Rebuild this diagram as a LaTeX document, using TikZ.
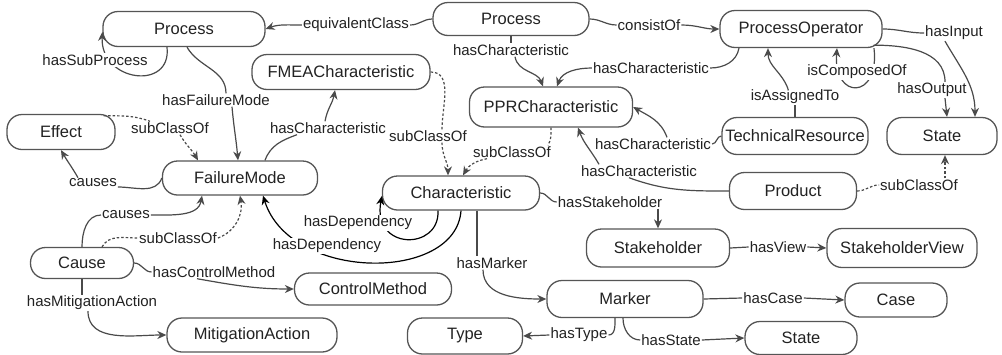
\documentclass[tikz,border=0pt]{standalone}
\usepackage{fontspec}
\setmainfont{Liberation Sans}
\usetikzlibrary{arrows.meta}

\definecolor{bordgris}{HTML}{555555}
\definecolor{liengris}{HTML}{4A4A4A}
\definecolor{texte}{HTML}{222222}

\tikzset{
  cls/.style={draw=bordgris, line width=1.3pt, fill=white, rounded corners=15pt,
    minimum height=35pt, inner sep=0pt, text=texte, font=\fontsize{16.5}{18}\selectfont},
  lbl/.style={fill=white, inner sep=1pt, text=texte, font=\fontsize{15}{17}\selectfont},
  lien/.style={draw=liengris, line width=1.2pt},
  fl/.style={lien, -{Stealth[length=9pt,width=8pt]}},
  dep/.style={fl, draw=black},
  pointille/.style={dash pattern=on 2.5pt off 2pt}
}

\begin{document}
\begin{tikzpicture}[x=1pt,y=-1pt]
      \useasboundingbox (0,0) rectangle (1002,354);

      %classes
      \node[cls, minimum width=162pt] (proc1) at (184,29) {Process};
      \node[cls, minimum width=156pt, minimum height=33pt] (proc2) at (511,19) {Process};
      \node[cls, minimum width=162pt, minimum height=37pt] (po) at (801,29) {ProcessOperator};
      \node[cls, minimum width=178pt] (fmea) at (341,72) {FMEACharacteristic};
      \node[cls, minimum width=163pt, minimum height=40pt] (ppr) at (551,107) {PPRCharacteristic};
      \node[cls, minimum width=108pt] (effect) at (61,132) {Effect};
      \node[cls, minimum width=155pt, minimum height=34pt] (fm) at (240,178) {FailureMode};
      \node[cls, minimum width=157pt, minimum height=34pt] (char) at (461,193) {Characteristic};
      \node[cls, minimum width=146pt, minimum height=37pt] (tr) at (795,136) {TechnicalResource};
      \node[cls, minimum width=110pt, minimum height=37pt] (state1) at (942,136) {State};
      \node[cls, minimum width=127pt, minimum height=37pt] (prod) at (793,191) {Product};
      \node[cls, minimum width=143pt, minimum height=38pt] (stake) at (658,248) {Stakeholder};
      \node[cls, minimum width=150pt, minimum height=39pt] (sview) at (902,248) {StakeholderView};
      \node[cls, minimum width=156pt, minimum height=37pt] (marker) at (625,299) {Marker};
      \node[cls, minimum width=102pt, minimum height=34pt] (case) at (896,300) {Case};
      \node[cls, minimum width=112pt, minimum height=33pt] (state2) at (801,338) {State};
      \node[cls, minimum width=115pt, minimum height=36pt] (type) at (465,336) {Type};
      \node[cls, minimum width=157pt, minimum height=32pt] (ctrl) at (373,289) {ControlMethod};
      \node[cls, minimum width=170pt, minimum height=34pt] (mit) at (252,335) {MitigationAction};
      \node[cls, minimum width=103pt, minimum height=31pt] (cause) at (82,263) {Cause};

      %etiquettes
      \node[lbl] (lEquiv) at (356,25) {equivalentClass};
      \node[lbl] (lConsist) at (649,25) {consistOf};
      \node[lbl] (lHC1) at (511,50) {hasCharacteristic};
      \node[lbl] (lHC2) at (651,68) {hasCharacteristic};
      \node[lbl] (lIn) at (954,33) {hasInput};
      \node[lbl] (lOut) at (932,90) {hasOutput};
      \node[lbl] (lAssigned) at (795,97) {isAssignedTo};
      \node[lbl] (lHC3) at (653,144) {hasCharacteristic};
      \node[lbl] (lHC4) at (639,171) {hasCharacteristic};
      \node[lbl] (lSub1) at (919,185) {subClassOf};
      \node[lbl] (lSub2) at (512,152) {subClassOf};
      \node[lbl] (lSub3) at (428,136) {subClassOf};
      \node[lbl] (lHC5) at (328,128) {hasCharacteristic};
      \node[lbl] (lFail) at (216,100) {hasFailureMode};
      \node[lbl] (lSubEff) at (170,128) {subClassOf};
      \node[lbl] (lCauses1) at (93,183) {causes};
      \node[lbl] (lCauses2) at (126,215) {causes};
      \node[lbl] (lSub4) at (178,238) {subClassOf};
      \node[lbl] (lCtrl) at (214,272) {hasControlMethod};
      \node[lbl] (lMit) at (92,303) {hasMitigationAction};
      \node[lbl] (lStake) at (610,202) {hasStakeholder};
      \node[lbl] (lMarker) at (492,263) {hasMarker};
      \node[lbl] (lView) at (778,247) {hasView};
      \node[lbl] (lCase) at (773,298) {hasCase};
      \node[lbl] (lType) at (579,335) {hasType};
      \node[lbl] (lState) at (671,340) {hasState};

      %process
      \draw[lien] (proc2.west) to[out=180,in=0] (lEquiv.east);
      \draw[fl] (lEquiv.west) to[out=180,in=20] (proc1.east);
      \draw[lien] (proc2.east) to[out=0,in=180] (lConsist.west);
      \draw[fl] (lConsist.east) to[out=0,in=180] (po.west);
      \draw[lien] (proc2.south) -- (lHC1.north);
      \draw[fl] ([xshift=4pt]lHC1.south) to[out=-80,in=110] ([xshift=-8pt]ppr.north);
      \draw[fl] ([xshift=-17pt]proc1.south) .. controls +(5,44) and +(-2,50) .. ([yshift=-3pt]proc1.west);
      \node[lbl] (lSubProc) at (95,60) {hasSubProcess};
      \draw[lien] ([xshift=3pt]proc1.south) to[out=-60,in=90] ([xshift=10pt]lFail.north);
      \draw[fl] ([xshift=16pt]lFail.south) to[out=-85,in=95] ([xshift=-2pt]fm.north);

      %operateur
      \draw[lien] ([xshift=-62pt]po.south) to[out=-100,in=0] (lHC2.east);
      \draw[fl] (lHC2.west) to[out=180,in=70] ([xshift=6pt]ppr.north);
      \draw[lien] (po.east) to[out=0,in=180] (lIn.west);
      \draw[fl] ([xshift=-9pt]lIn.south) to[out=-60,in=90] ([xshift=33pt]state1.north);
      \draw[lien] ([xshift=-9pt,yshift=3pt]po.south east) to[out=0,in=90] ([xshift=13pt]lOut.north);
      \draw[fl] ([xshift=13pt]lOut.south) -- ([xshift=5pt]state1.north);
      \draw[fl] ([xshift=73pt]po.south) .. controls +(6,52) and +(-4,52) .. ([xshift=36pt]po.south);
      \node[lbl] (lComp) at (857,72) {isComposedOf};
      \draw[lien] (tr.north) -- (lAssigned.south);
      \draw[fl] ([xshift=-7pt]lAssigned.north) to[out=110,in=-90] ([xshift=-33pt]po.south);
      \draw[lien] (tr.west) to[out=180,in=0] (lHC3.east);
      \draw[fl] ([xshift=14pt]lHC3.north) to[out=110,in=-30] (ppr.east);
      \draw[lien] (prod.west) to[out=180,in=-20] ([xshift=-10pt]lHC4.south);
      \draw[fl] ([xshift=-40pt]lHC4.north) to[out=120,in=-70] ([xshift=27pt]ppr.south);
      \draw[lien,pointille] (prod.east) to[out=0,in=180] (lSub1.west);
      \draw[fl,pointille] ([xshift=26pt]lSub1.north) to[out=90,in=-90] ([xshift=3pt]state1.south);

      %caracteristiques
      \draw[lien,pointille] (ppr.south) to[out=-90,in=60] ([xshift=36pt]lSub2.north);
      \draw[fl,pointille] ([xshift=-25pt]lSub2.south) to[out=190,in=60] ([xshift=2pt]char.north);
      \draw[lien,pointille] (fmea.east) to[out=0,in=90] ([xshift=14pt]lSub3.north);
      \draw[fl,pointille] ([xshift=14pt]lSub3.south) to[out=-90,in=90] ([xshift=-13pt]char.north);
      \draw[lien] ([xshift=25pt]fm.north) to[out=70,in=200] ([xshift=-31pt]lHC5.south);
      \draw[fl] ([xshift=-3pt]lHC5.north) to[out=80,in=-100] ([xshift=-6pt]fmea.south);

      %defaillance
      \draw[lien,pointille] ([xshift=-12pt,yshift=-2pt]effect.north east) to[out=0,in=160] ([xshift=-20pt]lSubEff.north);
      \draw[fl,pointille] ([xshift=10pt]lSubEff.south) to[out=-60,in=120] ([xshift=-42pt]fm.north);
      \draw[lien] (fm.west) to[out=-110,in=0] ([yshift=-4pt]lCauses1.east);
      \draw[fl] ([xshift=-15pt]lCauses1.north) to[out=120,in=-60] (effect.south);
      \draw[lien] (cause.north) to[out=90,in=180] (lCauses2.west);
      \draw[fl] (lCauses2.east) to[out=0,in=-100] ([xshift=-38pt]fm.south);
      \draw[lien,pointille] ([xshift=20pt]cause.north) to[out=60,in=180] (lSub4.west);
      \draw[fl,pointille] (lSub4.east) to[out=20,in=-80] (fm.south);
      \draw[lien] (cause.east) to[out=0,in=180] (lCtrl.west);
      \draw[fl] ([xshift=-17pt]lCtrl.south) to[out=-10,in=180] (ctrl.west);
      \draw[lien] (cause.south) -- ([xshift=-10pt]lMit.north);
      \draw[fl] ([xshift=-4pt]lMit.south) to[out=-90,in=180] (mit.west);

      %dependances
      \draw[dep] ([xshift=-23pt]char.south) .. controls +(2,40) and +(-10,55) .. ([yshift=-3pt]char.west);
      \draw[dep] (char.south) .. controls +(-5,72) and +(27,86) .. ([xshift=23pt]fm.south);
      \node[lbl] (lDep1) at (358,223) {hasDependency};
      \node[lbl] (lDep2) at (327,246) {hasDependency};

      %acteurs et marqueurs
      \draw[lien] (char.east) to[out=0,in=180] (lStake.west);
      \draw[fl] ([xshift=48pt]lStake.south) -- (stake.north);
      \draw[lien] ([xshift=16pt]char.south) -- ([xshift=-15pt]lMarker.north);
      \draw[fl] ([xshift=-9pt]lMarker.south) to[out=-90,in=180] (marker.west);
      \draw[lien] (stake.east) -- (lView.west);
      \draw[fl] (lView.east) -- (sview.west);
      \draw[lien] (marker.east) -- (lCase.west);
      \draw[fl] (lCase.east) -- (case.west);
      \draw[lien] ([xshift=-10pt]marker.south) to[out=-90,in=0] (lType.east);
      \draw[fl] (lType.west) -- (type.east);
      \draw[lien] ([xshift=-2pt]marker.south) to[out=-90,in=180] (lState.west);
      \draw[fl] (lState.east) -- (state2.west);
\end{tikzpicture}
\end{document}
